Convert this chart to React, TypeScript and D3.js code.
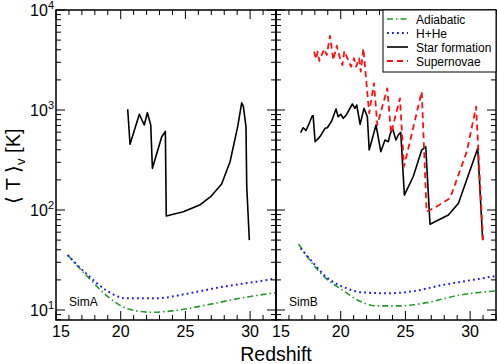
import React from 'react'
import * as d3 from 'd3'

// redshift / mean temperature readings, [z, T in K]
const xMajor = [15, 20, 25, 30]
const yMajor = [10, 100, 1000, 10000]

const simAAdiabatic: [number, number][] = [
  [15.9, 35.5], [16.6, 28], [17.45, 21.5], [18.86, 14.1], [20.15, 10.8], [21.2, 9.8],
  [22.3, 9.5], [24.0, 9.8], [26.6, 11.2], [29.2, 13.1], [32, 14.9],
]
const simAHHe: [number, number][] = [
  [15.9, 35.5], [16.6, 28.5], [17.45, 22.4], [18.86, 15.8], [20.4, 13.1], [22.7, 13.1],
  [25.3, 14.7], [27.9, 17.1], [30.5, 19.2], [32, 20.7],
]
const simAStar: [number, number][] = [
  [20.54, 1016], [20.72, 454], [21.44, 906], [21.82, 708], [22.06, 940], [22.32, 708],
  [22.45, 261], [23.17, 541], [23.45, 610], [23.52, 87], [24.84, 96], [26.1, 112],
  [27.0, 138], [27.8, 182], [28.45, 304], [29.04, 681], [29.35, 1183], [29.48, 1080],
  [29.68, 681], [29.74, 171], [29.94, 50],
]

const simBAdiabatic: [number, number][] = [
  [16.75, 45.7], [17.8, 29.3], [18.86, 20.7], [20.15, 15.8], [21.45, 12.3], [22.75, 11.0],
  [24.55, 11.0], [26.6, 11.8], [29.2, 14.1], [32, 15.5],
]
const simBHHe: [number, number][] = [
  [16.9, 41.4], [17.8, 30.4], [18.86, 21.5], [20.15, 17.1], [21.7, 15.0], [23.5, 14.7],
  [25.3, 15.2], [27.9, 17.8], [30.5, 20.3], [32, 21.9],
]
const simBStar: [number, number][] = [
  [16.9, 593], [17.1, 665], [17.32, 626], [17.57, 736], [17.8, 877], [17.87, 877],
  [18.02, 482], [18.4, 541], [18.79, 656], [18.97, 665], [19.3, 776], [19.64, 1023],
  [19.8, 857], [20.0, 906], [20.2, 826], [20.4, 880], [20.9, 1148], [21.1, 1040],
  [21.24, 1122], [21.5, 719], [21.8, 1040], [22.06, 857], [22.2, 398], [22.73, 708],
  [23.1, 383], [23.42, 501], [23.68, 482], [23.8, 562], [24.0, 656], [24.27, 501],
  [24.45, 562], [24.64, 598], [24.92, 141], [25.6, 215], [26.26, 398], [26.57, 430],
  [26.9, 72], [28.32, 89], [29.1, 117], [30.59, 414], [30.97, 50],
]
const simBSupernovae: [number, number][] = [
  [17.94, 3828], [18.1, 3236], [18.22, 3828], [18.35, 3090], [18.58, 3690], [18.73, 4074],
  [18.92, 3548], [19.17, 5495], [19.43, 3162], [19.69, 4395], [19.95, 3289], [20.13, 2818],
  [20.28, 3890], [20.52, 3289], [20.8, 2710], [21.03, 3289], [21.19, 2710], [21.42, 3289],
  [21.55, 2415], [21.75, 4140], [22.2, 927], [22.57, 1849], [22.83, 708], [23.6, 1648],
  [23.89, 585], [24.58, 1309], [24.89, 271], [26.26, 1524], [26.64, 96], [27.4, 108],
  [28.45, 131], [29.74, 383], [30.46, 1079], [31.0, 50],
]

const legendItems = [
  { label: 'Adiabatic', color: '#22992a', dash: '6,3,1.5,3', width: 1.6 },
  { label: 'H+He', color: '#1a1aff', dash: '1.8,3.2', width: 2 },
  { label: 'Star formation', color: '#000', dash: '', width: 1.6 },
  { label: 'Supernovae', color: '#ff1010', dash: '6,4', width: 1.8 },
]

const top = 10
const bottom = 320
const font = '"Liberation Sans", Arial, sans-serif'
const y = d3.scaleLog().domain([Math.pow(10, 0.9), 1e4]).range([bottom, top])

function Panel({ x0, series, name, left }: any) {
  const x = d3.scaleLinear().domain([15, 32]).range([x0, x0 + 220])
  const line = d3.line<[number, number]>().x(d => x(d[0])).y(d => y(d[1]))
  const smooth = d3.line<[number, number]>().x(d => x(d[0])).y(d => y(d[1])).curve(d3.curveMonotoneX)
  const [x1, x2] = x.range()

  const xt = d3.range(15, 33)
  const yt: number[] = []
  for (let e = 0; e < 4; e++) for (let m = 1; m < 10; m++) {
    const v = m * Math.pow(10, e)
    if (v >= 8 && v <= 1e4) yt.push(v)
  }
  yt.push(1e4)

  return (
    <g>
      {series.map((s: any, i: number) => (
        <path key={i} d={(s.smooth ? smooth : line)(s.data) || ''} fill="none"
          stroke={s.color} strokeWidth={s.width} strokeDasharray={s.dash} strokeLinejoin="round" />
      ))}
      {xt.map(t => {
        const len = t % 5 === 0 ? 9 : 5
        return (
          <g key={'x' + t} stroke="#000" strokeWidth={1}>
            <line x1={x(t)} x2={x(t)} y1={bottom} y2={bottom - len} />
            <line x1={x(t)} x2={x(t)} y1={top} y2={top + len} />
          </g>
        )
      })}
      {yt.map((t, i) => {
        const len = yMajor.includes(t) ? 9 : 5
        return (
          <g key={'y' + i} stroke="#000" strokeWidth={1}>
            <line x1={x1} x2={x1 + len} y1={y(t)} y2={y(t)} />
            <line x1={x2} x2={x2 - len} y1={y(t)} y2={y(t)} />
          </g>
        )
      })}
      <rect x={x1} y={top} width={220} height={bottom - top} fill="none" stroke="#000" strokeWidth={1.5} />
      {xMajor.map(t => (
        <text key={'xl' + t} x={x(t) + (t === 15 ? 5 : 0)} y={337} textAnchor="middle"
          fontSize={16} fontFamily={font}>{t}</text>
      ))}
      {left && yMajor.map(t => (
        <text key={'yl' + t} x={54} y={y(t) + 6} textAnchor="end" fontSize={16} fontFamily={font}>
          10<tspan dy={-7} fontSize={11}>{Math.round(Math.log10(t))}</tspan>
        </text>
      ))}
      <text x={x1 + 13} y={306} fontSize={12} fontFamily={font}>{name}</text>
    </g>
  )
}

export default function App() {
  const style = (k: number) => legendItems[k]
  const seriesA = [
    { data: simAAdiabatic, smooth: true, ...style(0) },
    { data: simAHHe, smooth: true, ...style(1) },
    { data: simAStar, smooth: false, ...style(2) },
  ]
  const seriesB = [
    { data: simBAdiabatic, smooth: true, ...style(0) },
    { data: simBHHe, smooth: true, ...style(1) },
    { data: simBStar, smooth: false, ...style(2) },
    { data: simBSupernovae, smooth: false, ...style(3) },
  ]
  return (
    <svg width={498} height={364} style={{ position: 'absolute', left: 0, top: 0, background: '#fff' }}>
      <Panel x0={56} series={seriesA} name="SimA" left />
      <Panel x0={276} series={seriesB} name="SimB" />
      <g>
        <rect x={383} y={top} width={113} height={62} fill="#fff" stroke="#000" strokeWidth={1} />
        {legendItems.map((it, i) => (
          <g key={it.label}>
            <line x1={387} x2={408} y1={19 + i * 14} y2={19 + i * 14} stroke={it.color}
              strokeWidth={it.width} strokeDasharray={it.dash} />
            <text x={416} y={23.5 + i * 14} fontSize={12} fontFamily={font}>{it.label}</text>
          </g>
        ))}
      </g>
      <text x={276} y={361} textAnchor="middle" fontSize={19.5} fontFamily={font}>Redshift</text>
      <text transform="translate(20,166) rotate(-90)" textAnchor="middle" fontSize={20} fontFamily={font}>
        ⟨ T ⟩<tspan dy={5} fontSize={13}>v</tspan><tspan dy={-5}> [K]</tspan>
      </text>
    </svg>
  )
}
